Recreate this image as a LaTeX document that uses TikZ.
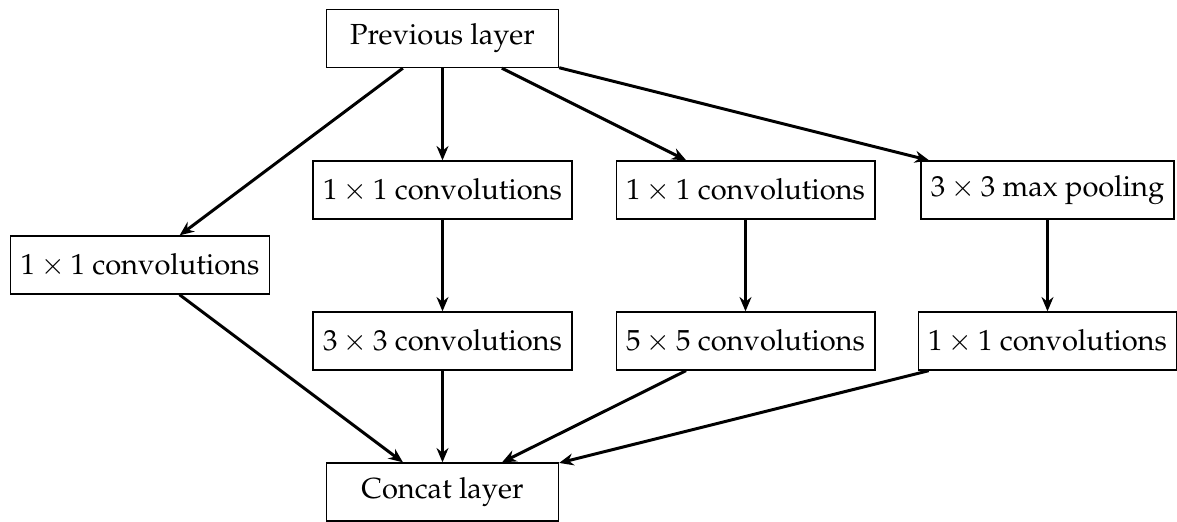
\documentclass[tikz,border=0pt]{standalone}
\usepackage[T1]{fontenc}
\usepackage{mathpazo}
\usetikzlibrary{arrows.meta}
\tikzset{
  layerbox/.style={draw, line width=0.45pt, minimum height=58*0.3356pt, inner sep=0.3333em, font=\fontsize{9.75}{12}\selectfont},
  widebox/.style={layerbox, minimum width=232*0.3356pt},
  flow/.style={line width=1pt, -{Stealth[length=4.8pt,width=4pt]}}
}
\begin{document}
\begin{tikzpicture}[x=0.3356pt, y=-0.3356pt]
  \useasboundingbox (0,0) rectangle (1177,521);
  % input and output layers
  \node[widebox] (prev) at (442.5,38.5) {Previous layer};
  \node[widebox] (concat) at (442.5,492) {Concat layer};
  % branch 1: single 1x1 convolution
  \node[layerbox] (b1) at (140,265) {$1\times1$ convolutions};
  % branch 2: 1x1 reduction then 3x3
  \node[layerbox] (b2a) at (442.5,190) {$1\times1$ convolutions};
  \node[layerbox] (b2b) at (442.5,341) {$3\times3$ convolutions};
  % branch 3: 1x1 reduction then 5x5
  \node[layerbox] (b3a) at (745.5,190) {$1\times1$ convolutions};
  \node[layerbox] (b3b) at (745.5,341) {$5\times5$ convolutions};
  % branch 4: pooling then 1x1 projection
  \node[layerbox] (b4a) at (1047.5,190) {$3\times3$ max pooling};
  \node[layerbox] (b4b) at (1047.5,341) {$1\times1$ convolutions};
  % connections
  \draw[flow] (prev) -- (b1);
  \draw[flow] (prev) -- (b2a);
  \draw[flow] (prev) -- (b3a);
  \draw[flow] (prev) -- (b4a);
  \draw[flow] (b2a) -- (b2b);
  \draw[flow] (b3a) -- (b3b);
  \draw[flow] (b4a) -- (b4b);
  \draw[flow] (b1) -- (concat);
  \draw[flow] (b2b) -- (concat);
  \draw[flow] (b3b) -- (concat);
  \draw[flow] (b4b) -- (concat);
\end{tikzpicture}
\end{document}
